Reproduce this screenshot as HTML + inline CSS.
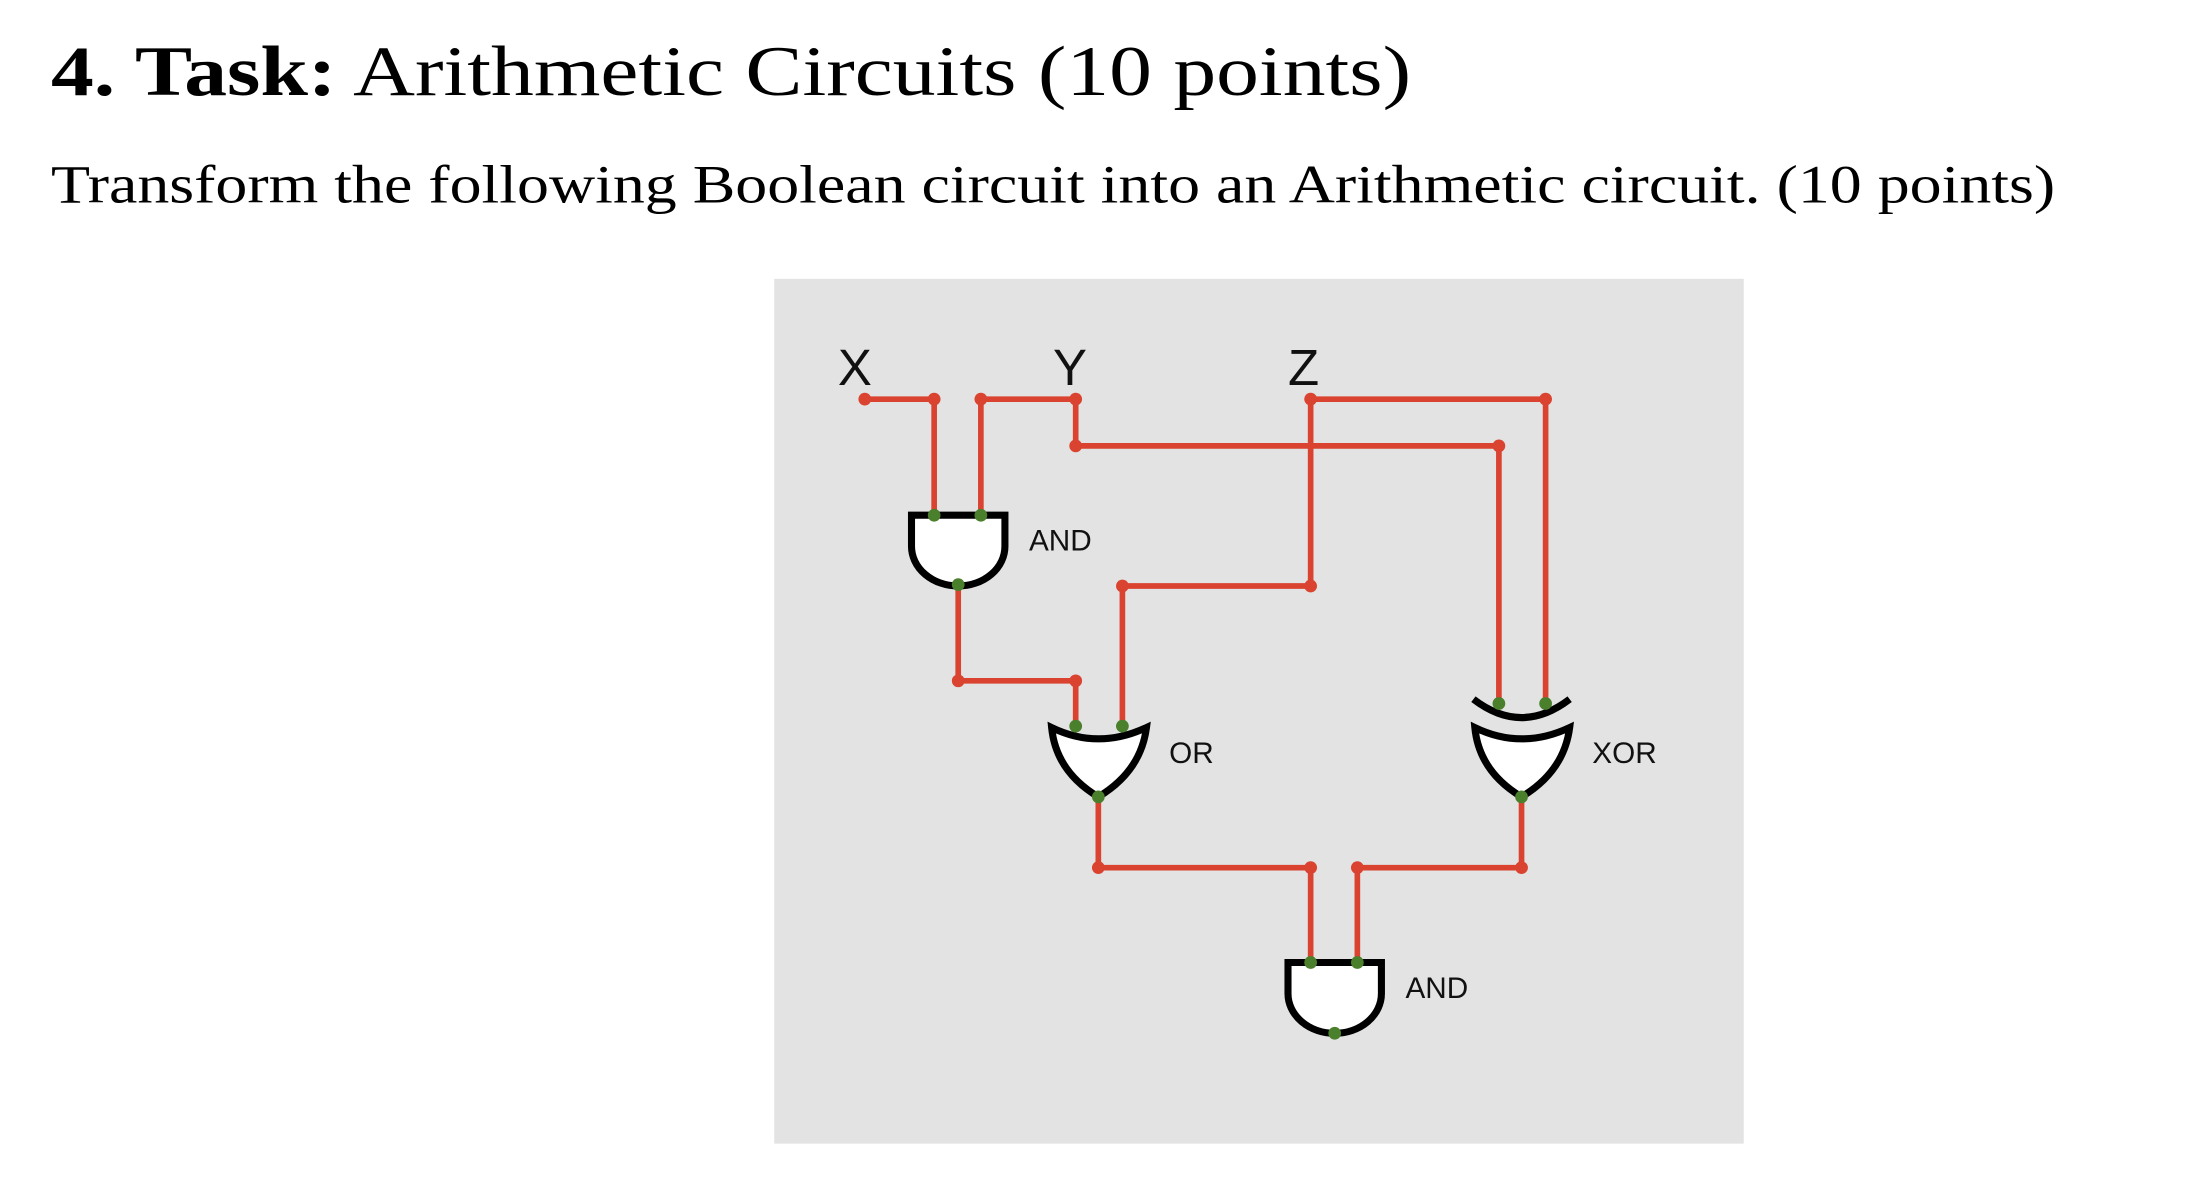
<!DOCTYPE html>
<html><head><meta charset="utf-8"><style>
html,body{margin:0;padding:0;background:#fff;width:2208px;height:1184px;overflow:hidden}
svg{display:block}
</style></head><body>
<svg width="2208" height="1184" viewBox="0 0 1560 836.5" xmlns="http://www.w3.org/2000/svg">
<text x="36" y="67" font-family="Liberation Serif, serif" font-size="50" fill="#000" textLength="961" lengthAdjust="spacingAndGlyphs"><tspan font-weight="bold">4.  Task:</tspan> Arithmetic Circuits (10 points)</text>
<text x="36" y="143" font-family="Liberation Serif, serif" font-size="38" fill="#000" textLength="1416" lengthAdjust="spacingAndGlyphs">Transform the following Boolean circuit into an Arithmetic circuit. (10 points)</text>
<rect x="547" y="197" width="685" height="611" fill="#e3e3e3"/>
<g font-family="Liberation Sans, sans-serif" fill="#111">
<text x="604" y="272" font-size="36" text-anchor="middle">X</text>
<text x="756" y="272" font-size="36" text-anchor="middle">Y</text>
<text x="921" y="272" font-size="36" text-anchor="middle">Z</text>
<text x="727" y="389" font-size="21">AND</text>
<text x="826" y="539" font-size="21">OR</text>
<text x="1125" y="539" font-size="21">XOR</text>
<text x="993" y="705" font-size="21">AND</text>
</g>
<g stroke="#d94330" stroke-width="4" fill="none" stroke-linejoin="miter">
<polyline points="611,282 660,282 660,364"/>
<polyline points="693,364 693,282 760,282 760,315 1059,315 1059,497"/>
<polyline points="926,282 1092,282 1092,497"/>
<polyline points="926,282 926,414 793,414 793,513"/>
<polyline points="677,413 677,481 760,481 760,513"/>
<polyline points="776,563 776,613 926,613 926,680"/>
<polyline points="959,680 959,613 1075,613 1075,563"/>
</g>
<g fill="#d94330">
<circle cx="611" cy="282" r="4.5"/><circle cx="660" cy="282" r="4.5"/><circle cx="693" cy="282" r="4.5"/><circle cx="760" cy="282" r="4.5"/>
<circle cx="760" cy="315" r="4.5"/><circle cx="1059" cy="315" r="4.5"/><circle cx="926" cy="282" r="4.5"/><circle cx="1092" cy="282" r="4.5"/>
<circle cx="926" cy="414" r="4.5"/><circle cx="793" cy="414" r="4.5"/><circle cx="677" cy="481" r="4.5"/><circle cx="760" cy="481" r="4.5"/>
<circle cx="776" cy="613" r="4.5"/><circle cx="926" cy="613" r="4.5"/><circle cx="959" cy="613" r="4.5"/><circle cx="1075" cy="613" r="4.5"/>
</g>
<g stroke="#000" stroke-width="5" fill="#fff">
<path d="M644,364 H710 V386 A33,28 0 0 1 644,386 Z"/>
<path d="M743,514 Q776,530 810,514 Q806,545 776,563 Q746,545 743,514 Z"/>
<path d="M1042,514 Q1075,530 1109,514 Q1105,545 1075,563 Q1045,545 1042,514 Z"/>
<path d="M1041,494 Q1075,520 1109,494" fill="none"/>
<path d="M910,680 H976 V702 A33,28 0 0 1 910,702 Z"/>
</g>
<g fill="#4a7f2c">
<circle cx="660" cy="364" r="4.5"/><circle cx="693" cy="364" r="4.5"/><circle cx="677" cy="413" r="4.5"/>
<circle cx="760" cy="513" r="4.5"/><circle cx="793" cy="513" r="4.5"/><circle cx="776" cy="563" r="4.5"/>
<circle cx="1059" cy="497" r="4.5"/><circle cx="1092" cy="497" r="4.5"/><circle cx="1075" cy="563" r="4.5"/>
<circle cx="926" cy="680" r="4.5"/><circle cx="959" cy="680" r="4.5"/><circle cx="943" cy="730" r="4.5"/>
</g>
</svg>
</body></html>
